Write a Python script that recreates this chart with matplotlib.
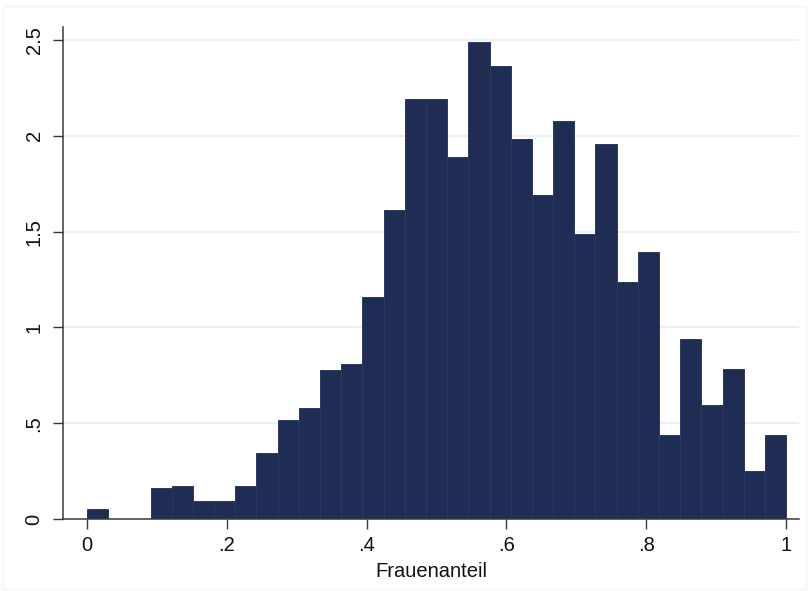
"""Histogram of the share of women (Frauenanteil), Stata-style look."""

from __future__ import annotations

import matplotlib

matplotlib.use("Agg")

import matplotlib.pyplot as plt
import numpy as np
from matplotlib.patches import Rectangle


# 33 equal-width bins between 0 and 1, density heights
N_BINS = 33
BIN_RANGE = (0.0, 1.0)
DENSITY = [
    0.05, 0.0, 0.0, 0.16, 0.17, 0.093, 0.093, 0.172, 0.345, 0.516, 0.577,
    0.78, 0.81, 1.16, 1.613, 2.19, 2.19, 1.89, 2.488, 2.363, 1.986, 1.691,
    2.08, 1.488, 1.957, 1.236, 1.392, 0.439, 0.939, 0.597, 0.783, 0.253, 0.436,
]

X_TICKS = [0.0, 0.2, 0.4, 0.6, 0.8, 1.0]
X_TICK_LABELS = ["0", ".2", ".4", ".6", ".8", "1"]
Y_TICKS = [0.0, 0.5, 1.0, 1.5, 2.0, 2.5]
Y_TICK_LABELS = ["0", ".5", "1", "1.5", "2", "2.5"]
X_LABEL = "Frauenanteil"

BAR_COLOR = "#1f2d54"
EDGE_COLOR = "#2d3a5f"
GRID_COLOR = "#e8f0f1"
AXIS_COLOR = "#3a3a3a"


def main() -> None:
    plt.rcParams["font.family"] = ["Liberation Sans", "DejaVu Sans"]

    fig = plt.figure(figsize=(8.08, 5.91), dpi=100)
    ax = fig.add_axes([0.078, 0.1218, 0.911, 0.8325])

    edges = np.linspace(BIN_RANGE[0], BIN_RANGE[1], N_BINS + 1)
    widths = np.diff(edges)
    ax.bar(
        edges[:-1],
        DENSITY,
        width=widths,
        align="edge",
        color=BAR_COLOR,
        edgecolor=EDGE_COLOR,
        linewidth=0.7,
        zorder=2,
    )

    ax.set_xlim(-0.0343, 1.0186)
    ax.set_ylim(0.0, 2.568)

    ax.set_xticks(X_TICKS)
    ax.set_xticklabels(X_TICK_LABELS)
    ax.set_yticks(Y_TICKS)
    ax.set_yticklabels(Y_TICK_LABELS, rotation=90, va="center")

    ax.tick_params(axis="both", length=7, width=1.0, color=AXIS_COLOR,
                   labelsize=14.5, labelcolor="#111111")
    ax.tick_params(axis="y", pad=7)
    ax.tick_params(axis="x", pad=5)

    ax.yaxis.grid(True, color=GRID_COLOR, linewidth=1.2, zorder=0)
    ax.set_axisbelow(True)

    for side in ("top", "right"):
        ax.spines[side].set_visible(False)
    for side in ("left", "bottom"):
        ax.spines[side].set_color(AXIS_COLOR)
        ax.spines[side].set_linewidth(1.1)

    ax.set_xlabel(X_LABEL, fontsize=14.5, color="#111111", labelpad=5)

    # faint outer frame of the graph region
    fig.patches.append(
        Rectangle((0.004, 0.004), 0.994, 0.986, transform=fig.transFigure,
                  fill=False, edgecolor="#f4f4f4", linewidth=1.0)
    )

    fig.savefig("out.png", dpi=100)
    plt.close(fig)


if __name__ == "__main__":
    main()
